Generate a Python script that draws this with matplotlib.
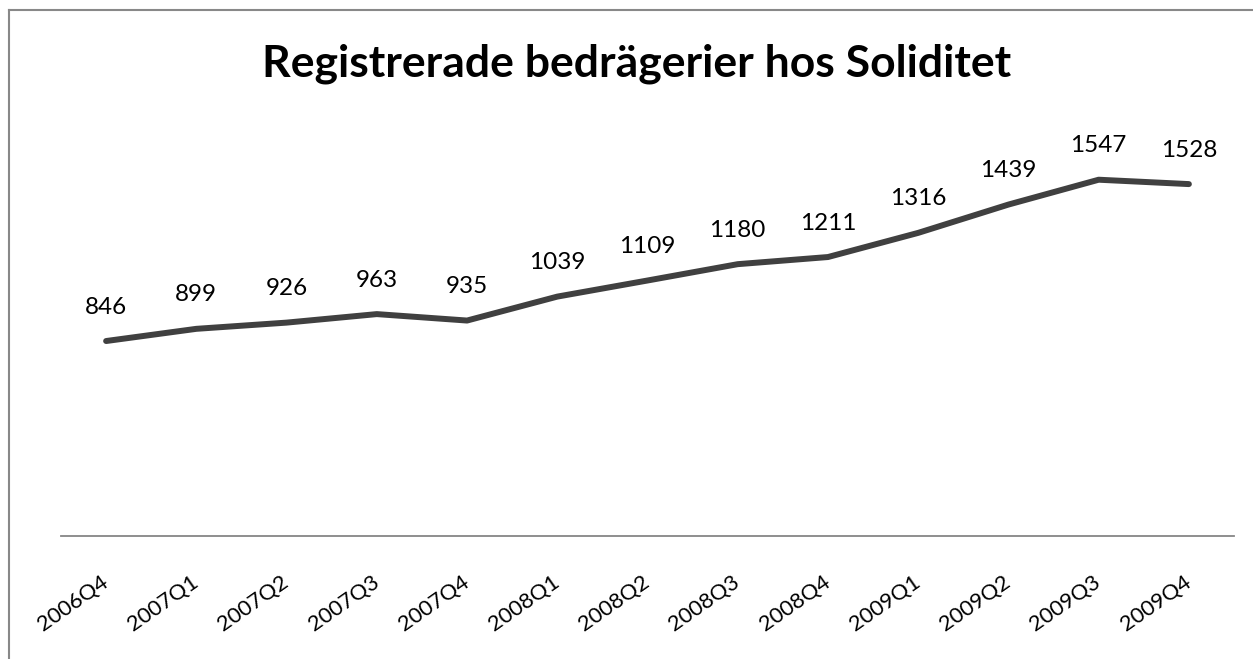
import matplotlib
matplotlib.use("Agg")
import matplotlib.pyplot as plt
from matplotlib.lines import Line2D

quarters = ["2006Q4", "2007Q1", "2007Q2", "2007Q3", "2007Q4", "2008Q1", "2008Q2",
            "2008Q3", "2008Q4", "2009Q1", "2009Q2", "2009Q3", "2009Q4"]
frauds = [846, 899, 926, 963, 935, 1039, 1109, 1180, 1211, 1316, 1439, 1547, 1528]
title = "Registrerade bedrägerier hos Soliditet"

W, H = 1253, 659
DPI = 100
plt.rcParams['font.family'] = ['Lato', 'DejaVu Sans']

fig = plt.figure(figsize=(W / DPI, H / DPI), dpi=DPI)
fig.patch.set_facecolor('white')

# plot area in pixels
left_px, right_px = 61, 1234
bottom_px, top_px = 535.7, 121.5
ax = fig.add_axes([left_px / W, 1 - bottom_px / H,
                   (right_px - left_px) / W, (bottom_px - top_px) / H])

x = list(range(len(quarters)))
ax.plot(x, frauds, color='#404040', lw=4.3, solid_capstyle='round',
        solid_joinstyle='round', zorder=3)
for xi, v in zip(x, frauds):
    ax.annotate(str(v), (xi, v), xytext=(0, 34 * 72 / DPI), textcoords='offset points',
                ha='center', va='center', fontsize=17.5, color='black')

ax.set_xlim(-0.5, len(quarters) - 0.5)
ax.set_ylim(0, 1800)
ax.set_yticks([])
ax.set_xticks(x)
ax.set_xticklabels(quarters, rotation=35, ha='right', va='center',
                   rotation_mode='anchor', fontsize=15.8)
ax.tick_params(axis='x', length=0, pad=44 * 72 / DPI)
for s in ['top', 'right', 'left']:
    ax.spines[s].set_visible(False)
ax.spines['bottom'].set_color('#868686')
ax.spines['bottom'].set_linewidth(1.3)
ax.patch.set_visible(False)

# title fitted to target width
t = fig.text(637 / W, 1 - 77 / H, title, ha='center', va='baseline',
             fontsize=30, fontweight='bold', color='black')
fig.canvas.draw()
w = t.get_window_extent().width
t.set_fontsize(30 * 748 / w)

# chart border (top and left visible; extends off image)
bc = '#888888'
fig.add_artist(Line2D([9 / W, 1.01], [1 - 10 / H, 1 - 10 / H], transform=fig.transFigure,
                      color=bc, lw=1.5))
fig.add_artist(Line2D([9 / W, 9 / W], [-0.01, 1 - 10 / H], transform=fig.transFigure,
                      color=bc, lw=1.5))

fig.savefig("out.png", dpi=DPI, facecolor='white')
